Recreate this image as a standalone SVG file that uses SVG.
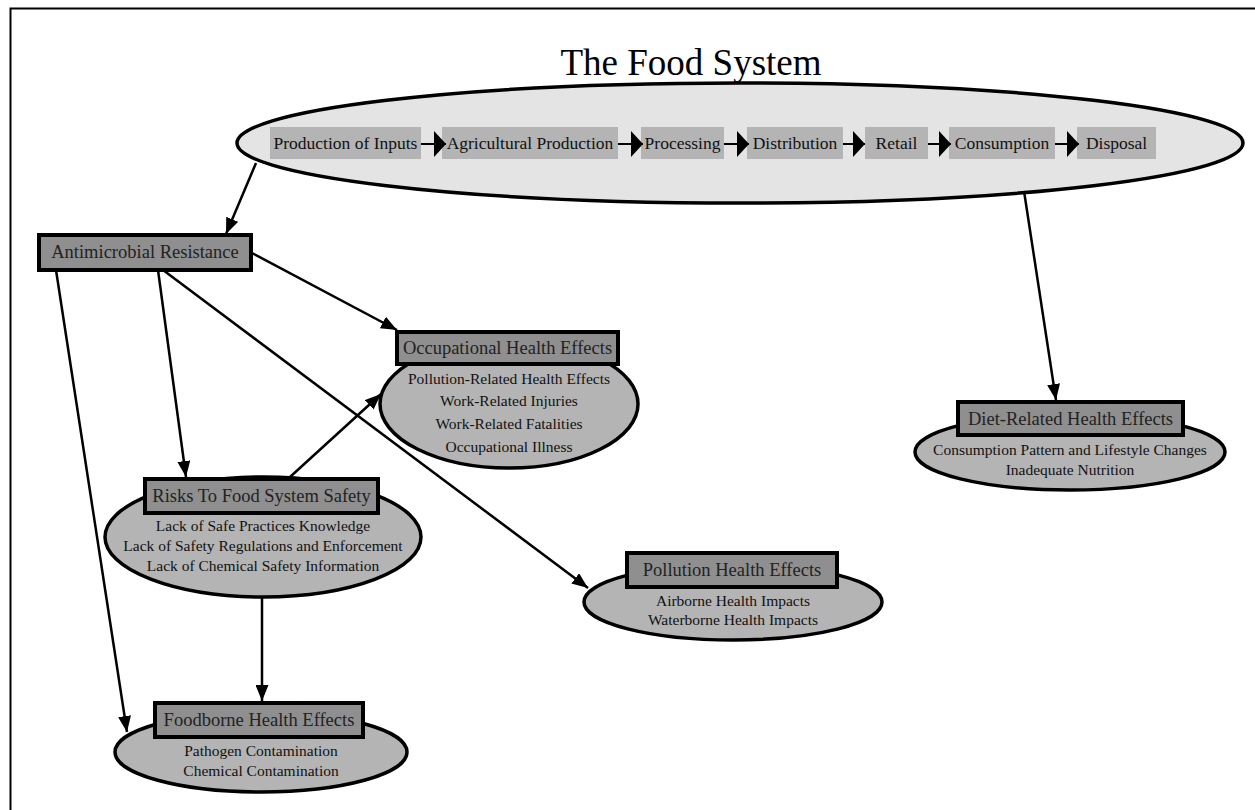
<svg xmlns="http://www.w3.org/2000/svg" width="1255" height="810" viewBox="0 0 1255 810">
<defs>
<style>
.frame{stroke:#000;stroke-width:2;fill:none}
.title{font-family:"Liberation Serif","Times New Roman",serif;font-size:37px;fill:#000;text-anchor:middle}
.sys{fill:#e4e4e4;stroke:#000;stroke-width:3.5}
.step{fill:#b4b4b4}
.steptxt{font-family:"Liberation Serif","Times New Roman",serif;font-size:17.5px;fill:#111;text-anchor:middle}
.hbox{fill:#8f8f8f;stroke:#000;stroke-width:4}
.htxt{font-family:"Liberation Serif","Times New Roman",serif;font-size:18.5px;fill:#222;text-anchor:middle}
.ell{fill:#b4b4b4;stroke:#000;stroke-width:3.5}
.sub{font-family:"Liberation Serif","Times New Roman",serif;font-size:15.5px;fill:#111;text-anchor:middle}
.con{stroke:#000;stroke-width:2.5;fill:none;marker-end:url(#ah)}
.scon{stroke:#000;stroke-width:2;fill:none;marker-end:url(#big)}
</style>
<marker id="ah" viewBox="0 0 16 13" refX="16" refY="6.5" markerWidth="16" markerHeight="13" markerUnits="userSpaceOnUse" orient="auto">
<path d="M0,0 L16,6.5 L0,13 Z" fill="#000"/>
</marker>
<marker id="big" viewBox="0 0 12 26" refX="12" refY="13" markerWidth="12" markerHeight="26" markerUnits="userSpaceOnUse" orient="auto">
<path d="M0,0 L12,13 L0,26 Z" fill="#000"/>
</marker>
</defs>
<rect width="1255" height="810" fill="#fff"/>
<path class="frame" d="M10.5,810 V8.5 H1255"/>

<g id="food-system">
<text class="title" x="691" y="75">The Food System</text>
<ellipse class="sys" cx="740" cy="143" rx="503" ry="60"/>
</g>

<g id="step-production-of-inputs"><rect class="step" x="270" y="127" width="151" height="32"/><text class="steptxt" x="345.5" y="149">Production of Inputs</text></g>
<g id="step-agricultural-production"><rect class="step" x="442" y="127" width="176" height="32"/><text class="steptxt" x="530" y="149">Agricultural Production</text></g>
<g id="step-processing"><rect class="step" x="641" y="127" width="83" height="32"/><text class="steptxt" x="682.5" y="149">Processing</text></g>
<g id="step-distribution"><rect class="step" x="747" y="127" width="96" height="32"/><text class="steptxt" x="795" y="149">Distribution</text></g>
<g id="step-retail"><rect class="step" x="865" y="127" width="63" height="32"/><text class="steptxt" x="896.5" y="149">Retail</text></g>
<g id="step-consumption"><rect class="step" x="949" y="127" width="106" height="32"/><text class="steptxt" x="1002" y="149">Consumption</text></g>
<g id="step-disposal"><rect class="step" x="1077" y="127" width="79" height="32"/><text class="steptxt" x="1116.5" y="149">Disposal</text></g>

<g id="antimicrobial-resistance">
<rect class="hbox" x="39" y="235" width="212" height="35"/>
<text class="htxt" x="145" y="258">Antimicrobial Resistance</text>
</g>

<g id="occupational-health-effects">
<ellipse class="ell" cx="509" cy="404" rx="129" ry="64"/>
<rect class="hbox" x="397" y="332" width="221" height="32"/>
<text class="htxt" x="507.5" y="354">Occupational Health Effects</text>
<text class="sub" x="509" y="384">Pollution-Related Health Effects</text>
<text class="sub" x="509" y="406">Work-Related Injuries</text>
<text class="sub" x="509" y="429">Work-Related Fatalities</text>
<text class="sub" x="509" y="452">Occupational Illness</text>
</g>

<g id="risks-to-food-system-safety">
<ellipse class="ell" cx="263" cy="537" rx="158" ry="60"/>
<rect class="hbox" x="145" y="479" width="233" height="34"/>
<text class="htxt" x="261.5" y="502">Risks To Food System Safety</text>
<text class="sub" x="263" y="531">Lack of Safe Practices Knowledge</text>
<text class="sub" x="263" y="551">Lack of Safety Regulations and Enforcement</text>
<text class="sub" x="263" y="571">Lack of Chemical Safety Information</text>
</g>

<g id="pollution-health-effects">
<ellipse class="ell" cx="733" cy="602" rx="149" ry="38"/>
<rect class="hbox" x="627" y="553" width="210" height="34"/>
<text class="htxt" x="732" y="576">Pollution Health Effects</text>
<text class="sub" x="733" y="606">Airborne Health Impacts</text>
<text class="sub" x="733" y="625">Waterborne Health Impacts</text>
</g>

<g id="foodborne-health-effects">
<ellipse class="ell" cx="261" cy="752" rx="146" ry="40"/>
<rect class="hbox" x="155" y="703" width="208" height="34"/>
<text class="htxt" x="259" y="726">Foodborne Health Effects</text>
<text class="sub" x="261" y="756">Pathogen Contamination</text>
<text class="sub" x="261" y="776">Chemical Contamination</text>
</g>

<g id="diet-related-health-effects">
<ellipse class="ell" cx="1070" cy="452" rx="155" ry="38"/>
<rect class="hbox" x="958" y="402" width="225" height="33"/>
<text class="htxt" x="1070.5" y="425">Diet-Related Health Effects</text>
<text class="sub" x="1070" y="455">Consumption Pattern and Lifestyle Changes</text>
<text class="sub" x="1070" y="475">Inadequate Nutrition</text>
</g>

<g id="connectors">
<line class="scon" x1="421" y1="144" x2="446" y2="144"/>
<line class="scon" x1="618" y1="144" x2="643" y2="144"/>
<line class="scon" x1="724" y1="144" x2="749" y2="144"/>
<line class="scon" x1="843" y1="144" x2="865" y2="144"/>
<line class="scon" x1="928" y1="144" x2="951" y2="144"/>
<line class="scon" x1="1055" y1="144" x2="1079" y2="144"/>
<line class="con" x1="256" y1="163" x2="226" y2="234"/>
<line class="con" x1="1024" y1="191" x2="1056" y2="400"/>
<line class="con" x1="252" y1="253" x2="397" y2="330"/>
<line class="con" x1="158" y1="270" x2="186" y2="477"/>
<line class="con" x1="163" y1="270" x2="588" y2="588"/>
<line class="con" x1="56" y1="270" x2="127" y2="732"/>
<line class="con" x1="290" y1="477" x2="381" y2="394"/>
<line class="con" x1="262" y1="597" x2="262" y2="701"/>
</g>
</svg>
